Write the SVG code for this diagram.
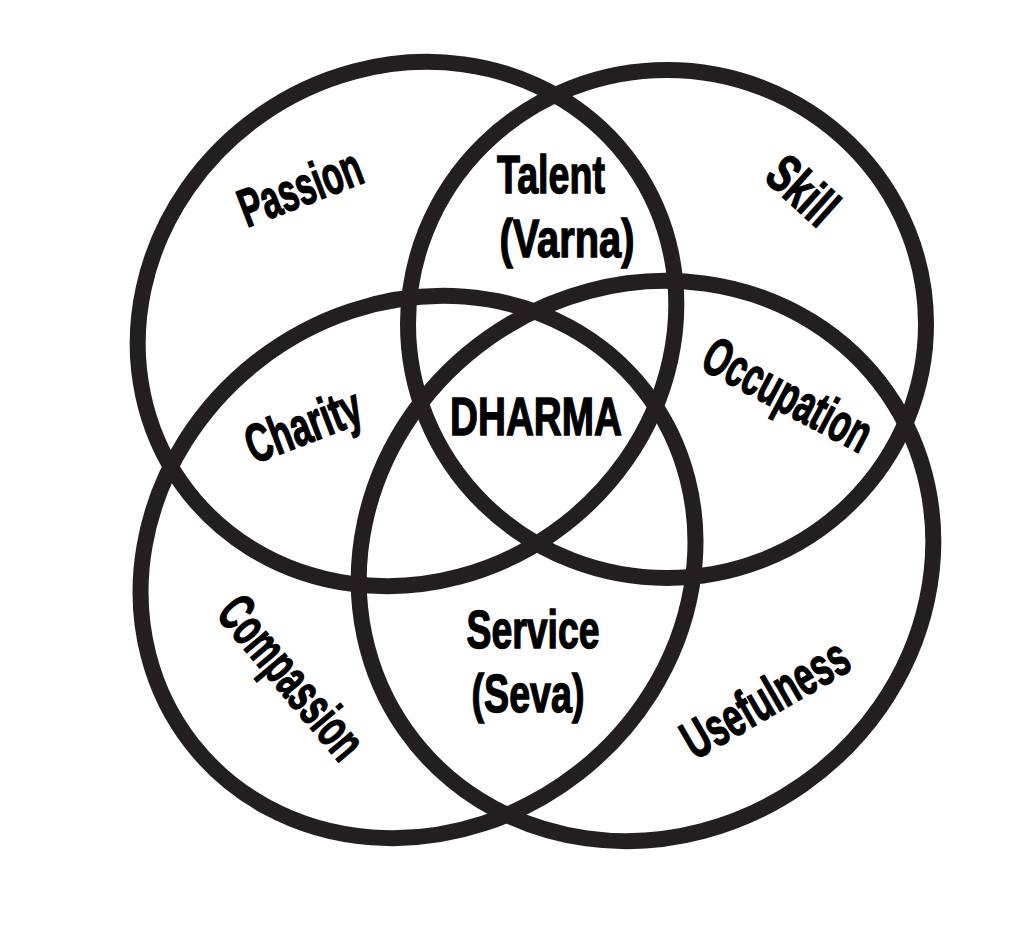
<svg xmlns="http://www.w3.org/2000/svg" width="1024" height="935" viewBox="0 0 1024 935">
  <style>
    .ring { fill: none; stroke: #231f20; stroke-width: 16; }
    .t { font-family: "Liberation Sans", Arial, sans-serif; font-weight: bold; font-size: 54px; fill: #000; stroke: #000; stroke-width: 1.4; text-anchor: middle; }
  </style>
  <rect x="0" y="0" width="1024" height="935" fill="#ffffff"/>
  <g id="circles">
    <g id="passion-circle"><ellipse class="ring" cx="0" cy="0" rx="276" ry="255" transform="translate(407 324) rotate(-35)"/></g>
    <g id="skill-circle"><ellipse class="ring" cx="0" cy="0" rx="259" ry="254" transform="translate(667 324)"/></g>
    <g id="compassion-circle"><ellipse class="ring" cx="0" cy="0" rx="287" ry="261" transform="translate(418 567) rotate(-38)"/></g>
    <g id="usefulness-circle"><ellipse class="ring" cx="0" cy="0" rx="294" ry="273" transform="translate(646 561) rotate(-35)"/></g>
  </g>
  <g id="labels">
    <g id="passion"><text class="t" transform="translate(300 187) rotate(-21)" y="19" textLength="128" lengthAdjust="spacingAndGlyphs">Passion</text></g>
    <g id="skill"><text class="t" transform="translate(803 190) rotate(42)" y="19" textLength="75" lengthAdjust="spacingAndGlyphs">Skill</text></g>
    <g id="talent"><text class="t" x="551" y="193" textLength="108" lengthAdjust="spacingAndGlyphs">Talent</text>
      <text class="t" x="567" y="257" textLength="135" lengthAdjust="spacingAndGlyphs">(Varna)</text></g>
    <g id="charity"><text class="t" transform="translate(303 425) rotate(-21)" y="19" textLength="120" lengthAdjust="spacingAndGlyphs">Charity</text></g>
    <g id="dharma"><text class="t" x="536" y="435" textLength="172" lengthAdjust="spacingAndGlyphs">DHARMA</text></g>
    <g id="occupation"><text class="t" transform="translate(788 394) rotate(28)" y="19" textLength="183" lengthAdjust="spacingAndGlyphs">Occupation</text></g>
    <g id="compassion"><text class="t" transform="translate(292 677) rotate(50)" y="19" textLength="195" lengthAdjust="spacingAndGlyphs">Compassion</text></g>
    <g id="service"><text class="t" x="533" y="648" textLength="133" lengthAdjust="spacingAndGlyphs">Service</text>
      <text class="t" x="528" y="712" textLength="113" lengthAdjust="spacingAndGlyphs">(Seva)</text></g>
    <g id="usefulness"><text class="t" transform="translate(765 698) rotate(-30)" y="19" textLength="184" lengthAdjust="spacingAndGlyphs">Usefulness</text></g>
  </g>
</svg>
